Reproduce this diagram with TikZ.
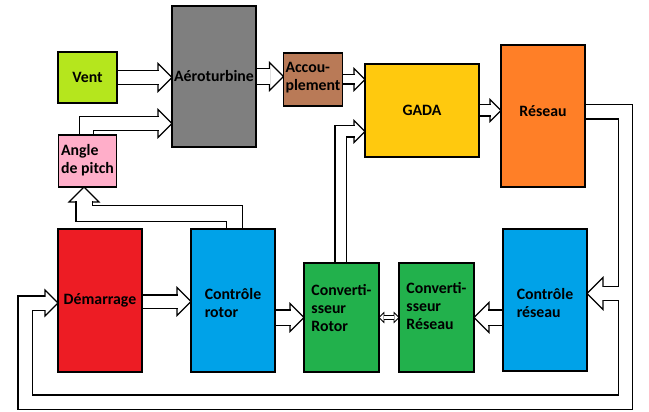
\documentclass[tikz,border=0pt]{standalone}
\usepackage{fontspec}
\setmainfont{Carlito}
\usetikzlibrary{positioning,backgrounds}

\definecolor{windgreen}{HTML}{B5E61D}
\definecolor{turbgray}{HTML}{7F7F7F}
\definecolor{couplbrown}{HTML}{B97A57}
\definecolor{gadagold}{HTML}{FFC90E}
\definecolor{gridorange}{HTML}{FF7F27}
\definecolor{pitchpink}{HTML}{FFAEC9}
\definecolor{startred}{HTML}{ED1C24}
\definecolor{ctrlblue}{HTML}{00A2E8}
\definecolor{convgreen}{HTML}{22B14C}

% left aligned block of lines, optionally lifted (box keeps its size)
\newcommand{\boxtext}[2][0pt]{\raisebox{#1}[\height][\depth]{\begin{tabular}{@{}l@{}}#2\end{tabular}}}

% hollow arrow heads: tip point, size
\newcommand{\headR}[2]{\draw[arrowhead] (#1) -- ++(-#2,-#2) -- ++(0,2*#2) -- cycle;}
\newcommand{\headL}[2]{\draw[arrowhead] (#1) -- ++(#2,-#2) -- ++(0,2*#2) -- cycle;}
\newcommand{\headU}[2]{\draw[arrowhead] (#1) -- ++(-#2,#2) -- ++(2*#2,0) -- cycle;}

% straight hollow arrows: start, tip, shaft width, head size
\newcommand{\flowR}[4]{\headR{#2}{#4}\draw[pipe=#3pt] (#1) -- ([xshift=-#4pt+0.6pt]#2);}
\newcommand{\flowL}[4]{\headL{#2}{#4}\draw[pipe=#3pt] (#1) -- ([xshift=#4pt-0.6pt]#2);}

\begin{document}
\begin{tikzpicture}[x=1pt, y=-1pt,
    box/.style={draw, line width=1.2pt, outer sep=0pt, inner sep=2pt, font=\bfseries\fontsize{15.8pt}{18pt}\selectfont},
    pipe/.style={draw, double=white, double distance=#1, line width=1.2pt, line join=miter},
    arrowhead/.style={draw, fill=white, line width=1.2pt, line join=miter}
  ]
    \useasboundingbox (0,0) rectangle (649,412);

    % turbine side
    \node[box, fill=windgreen, minimum width=59pt, minimum height=51pt] (vent) at (87.5,77.5) {Vent};
    \node[box, fill=pitchpink, minimum width=58pt, minimum height=52pt, below=32pt of vent] (pitch) {\boxtext{Angle\\de pitch}};
    \node[box, fill=turbgray, minimum width=84pt, minimum height=141pt] (aero) at (214,76.5) {Aéroturbine};
    \node[box, fill=couplbrown, minimum width=58pt, minimum height=53pt] (coupl) at (313,79.5) {\boxtext[1.5pt]{Accou-\\plement}};
    \node[box, fill=gadagold, minimum width=114pt, minimum height=93pt] (gada) at (422,110.5) {GADA};
    \node[box, fill=gridorange, minimum width=84pt, minimum height=142pt] (reseau) at (543,116) {\boxtext[3pt]{Réseau}};

    % control side
    \node[box, fill=startred, minimum width=84pt, minimum height=143pt] (demarr) at (100,300.5) {Démarrage};
    \node[box, fill=ctrlblue, minimum width=84pt, minimum height=143pt, right=49pt of demarr] (ctrlrot) {\boxtext[-4pt]{Contrôle\\rotor}};
    \node[box, fill=convgreen, minimum width=75pt, minimum height=109pt] (convrot) at (341.5,317.5) {\boxtext[8pt]{Converti-\\sseur\\Rotor}};
    \node[box, fill=convgreen, minimum width=75pt, minimum height=109pt, right=20pt of convrot] (convres) {\boxtext[10pt]{Converti-\\sseur\\Réseau}};
    \node[box, fill=ctrlblue, minimum width=84pt, minimum height=142pt] (ctrlres) at (545,300) {\boxtext[-5pt]{Contrôle\\réseau}};

    \begin{scope}[on background layer]
      \fill[white] (0,0) rectangle (649,412);

      % power chain
      \coordinate (aeroW) at (vent.east -| aero.west);
      \flowR{vent.east}{aeroW}{13}{14}
      \coordinate (couplW) at (aero.east -| coupl.west);
      \flowR{aero.east}{couplW}{15}{14}
      \coordinate (gadaW) at (coupl.east -| gada.west);
      \flowR{coupl.east}{gadaW}{8}{11}
      \coordinate (reseauW) at (gada.east -| reseau.west);
      \flowR{gada.east}{reseauW}{10}{11}

      % pitch angle into the turbine
      \coordinate (aeroP) at ([yshift=-47pt]aero.west);
      \headR{aeroP}{14}
      \draw[pipe=13pt] ([xshift=-1pt]pitch.north) |- ([xshift=-13.4pt]aeroP);

      % rotor control to pitch
      \coordinate (pitchS) at ([xshift=-3.5pt]pitch.south);
      \headU{pitchS}{15}
      \draw[pipe=15pt] ([xshift=1.5pt]ctrlrot.north) -- ++(0,-15.5) -| ([yshift=-14.4pt]pitchS);

      % rotor converter to GADA
      \coordinate (gadaF) at ([yshift=-21pt]gada.west);
      \headR{gadaF}{11}
      \draw[pipe=10pt] ([xshift=-1pt]convrot.north) |- ([xshift=-10.4pt]gadaF);

      % bottom row
      \coordinate (ctrlrotW) at ([yshift=-1pt]ctrlrot.west);
      \flowR{ctrlrotW -| demarr.east}{ctrlrotW}{12}{14}
      \flowR{convrot.west -| ctrlrot.east}{convrot.west}{14}{14}
      \flowL{convres.east -| ctrlres.west}{convres.east}{14}{15}

      % link between the two converters
      \draw[arrowhead, line width=0.8pt] (convrot.east) -- ++(5,-5) -- ++(0,10) -- cycle;
      \draw[arrowhead, line width=0.8pt] (convres.west) -- ++(-5,-5) -- ++(0,10) -- cycle;
      \draw[double=white, double distance=3pt, line width=0.8pt] ([xshift=4.6pt]convrot.east) -- ([xshift=-4.6pt]convres.west);

      % grid feedback, outline first then inside so the branch stays open
      \coordinate (ctrlresE) at ([yshift=6.5pt]ctrlres.east);
      \coordinate (demarrW) at ([yshift=-2.5pt]demarr.west);
      \draw[line width=15.4pt, line join=miter] ([yshift=4pt]reseau.east) -- ++(40.5,0) -- ++(0,290) -| ([xshift=-33pt]demarrW) -- ([xshift=-12.4pt]demarrW)
        ([xshift=38.5pt]ctrlresE) -- ([xshift=15.4pt]ctrlresE);
      \headR{demarrW}{13}
      \headL{ctrlresE}{16}
      \draw[white, line width=13pt, line join=miter] ([yshift=4pt]reseau.east) -- ++(40.5,0) -- ++(0,290) -| ([xshift=-33pt]demarrW) -- ([xshift=-12.4pt]demarrW)
        ([xshift=38.5pt]ctrlresE) -- ([xshift=15.4pt]ctrlresE);
    \end{scope}
  \end{tikzpicture}
\end{document}
